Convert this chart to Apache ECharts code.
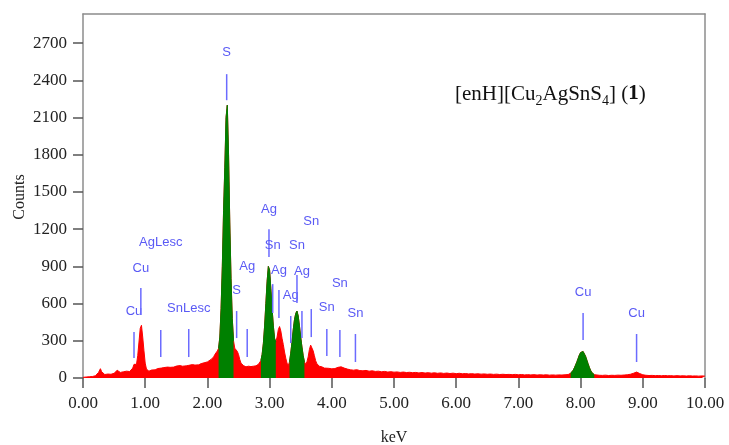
<!DOCTYPE html>
<html>
<head>
<meta charset="utf-8">
<script src="https://cdn.jsdelivr.net/npm/echarts@6/dist/echarts.min.js"></script>
<style>
  html, body { margin: 0; padding: 0; background: #fff; }
  #chart { width: 729px; height: 445px; }
</style>
</head>
<body>
<div id="chart"></div>
<script>
// spectrum, [keV, counts]
var spectrumLow = [
  [0.00, 5], [0.05, 8], [0.10, 10], [0.15, 12], [0.20, 18], [0.25, 45], [0.28, 75], [0.30, 50],
  [0.35, 28], [0.40, 32], [0.45, 30], [0.50, 38], [0.55, 62], [0.60, 45], [0.65, 50], [0.70, 55],
  [0.75, 52], [0.80, 80], [0.82, 110], [0.84, 95], [0.86, 110], [0.88, 180], [0.90, 290], [0.92, 400],
  [0.94, 425], [0.96, 330], [0.98, 220], [1.00, 120], [1.02, 72], [1.04, 58], [1.06, 55], [1.10, 64],
  [1.13, 72], [1.16, 66], [1.20, 76], [1.23, 70], [1.26, 80], [1.30, 84], [1.33, 78], [1.36, 88],
  [1.40, 86], [1.43, 94], [1.46, 88], [1.50, 96], [1.53, 92], [1.56, 100], [1.60, 95], [1.63, 104],
  [1.66, 98], [1.70, 102], [1.73, 96], [1.76, 108], [1.80, 104], [1.83, 112], [1.86, 106], [1.90, 116],
  [1.93, 110], [1.96, 124], [2.00, 130], [2.03, 138], [2.06, 150]
];
var spectrumMid = [
  [2.10, 170], [2.12, 190], [2.14, 205], [2.16, 218], [2.18, 240], [2.20, 330], [2.22, 560], [2.24, 900],
  [2.26, 1350], [2.28, 1700], [2.30, 2100], [2.32, 2200], [2.34, 1800], [2.36, 1250], [2.38, 800], [2.40, 480],
  [2.42, 300], [2.44, 240], [2.46, 235], [2.48, 215], [2.50, 190], [2.52, 150], [2.54, 120], [2.56, 105],
  [2.58, 100], [2.60, 95], [2.62, 90], [2.64, 100], [2.66, 95], [2.68, 90], [2.70, 92], [2.72, 88],
  [2.74, 95], [2.76, 100], [2.78, 98], [2.80, 105], [2.82, 110], [2.84, 120], [2.86, 140], [2.88, 190],
  [2.90, 280], [2.92, 420], [2.94, 600], [2.96, 780], [2.98, 900], [3.00, 870], [3.02, 720], [3.04, 560],
  [3.06, 420], [3.08, 320], [3.10, 290], [3.12, 330], [3.14, 390], [3.16, 415], [3.18, 380], [3.20, 320],
  [3.22, 270], [3.24, 210], [3.26, 160], [3.28, 120], [3.30, 100], [3.32, 130], [3.34, 200], [3.36, 290],
  [3.38, 390], [3.40, 470], [3.42, 520], [3.44, 540], [3.46, 500], [3.48, 420], [3.50, 330], [3.52, 250],
  [3.54, 180], [3.56, 130], [3.58, 110], [3.60, 130], [3.62, 170], [3.64, 230], [3.66, 265], [3.68, 255],
  [3.70, 220], [3.72, 180], [3.74, 140], [3.76, 115], [3.78, 100], [3.80, 95], [3.82, 88], [3.84, 90],
  [3.86, 85], [3.88, 80], [3.90, 82]
];
var spectrumHigh = [
  [3.95, 78], [4.00, 74], [4.05, 76], [4.10, 86], [4.15, 90], [4.20, 80], [4.25, 72], [4.30, 66],
  [4.35, 63], [4.40, 67], [4.45, 60], [4.50, 58], [4.55, 61], [4.60, 55], [4.65, 58], [4.70, 53],
  [4.75, 55], [4.80, 50], [4.85, 53], [4.90, 48], [4.95, 51], [5.00, 47], [5.05, 49], [5.10, 45],
  [5.15, 48], [5.20, 44], [5.25, 46], [5.30, 43], [5.35, 45], [5.40, 41], [5.45, 44], [5.50, 40],
  [5.55, 43], [5.60, 39], [5.65, 42], [5.70, 38], [5.75, 41], [5.80, 37], [5.85, 40], [5.90, 36],
  [5.95, 39], [6.00, 35], [6.05, 38], [6.10, 34], [6.15, 36], [6.20, 33], [6.25, 35], [6.30, 32],
  [6.35, 34], [6.40, 31], [6.45, 33], [6.50, 30], [6.55, 32], [6.60, 29], [6.65, 31], [6.70, 28],
  [6.75, 30], [6.80, 28], [6.85, 29], [6.90, 27], [6.95, 29], [7.00, 26], [7.05, 28], [7.10, 25],
  [7.15, 27], [7.20, 25], [7.25, 27], [7.30, 24], [7.35, 26], [7.40, 24], [7.45, 26], [7.50, 23],
  [7.55, 25], [7.60, 23], [7.65, 25], [7.70, 24], [7.75, 26], [7.80, 28], [7.82, 30], [7.84, 38],
  [7.86, 48], [7.88, 62], [7.90, 82], [7.92, 105], [7.94, 130], [7.96, 158], [7.98, 185], [8.00, 205],
  [8.02, 218], [8.04, 214], [8.06, 198], [8.08, 175], [8.10, 145], [8.12, 115], [8.14, 86], [8.16, 62],
  [8.18, 44], [8.20, 33], [8.22, 27], [8.24, 24], [8.30, 22], [8.35, 21], [8.40, 23], [8.45, 20],
  [8.50, 22], [8.55, 21], [8.60, 23], [8.65, 22], [8.70, 24], [8.75, 26], [8.80, 30], [8.85, 38],
  [8.90, 48], [8.95, 36], [9.00, 26], [9.05, 22], [9.10, 20], [9.15, 21], [9.20, 19], [9.25, 20],
  [9.30, 18], [9.35, 20], [9.40, 18], [9.45, 19], [9.50, 17], [9.55, 19], [9.60, 17], [9.65, 18],
  [9.70, 16], [9.75, 18], [9.80, 16], [9.85, 17], [9.90, 15], [9.95, 17], [10.00, 15]
];
// identified peak windows (keV), drawn green
var greenRanges = [[2.18, 2.43], [2.86, 3.10], [3.31, 3.57], [7.84, 8.22]];

// element markers
var markerName  = ['Cu', 'Cu', 'AgLesc', 'SnLesc', 'S', 'S', 'Ag', 'Ag', 'Sn', 'Ag', 'Ag', 'Sn', 'Ag', 'Sn', 'Sn', 'Sn', 'Sn', 'Cu', 'Cu'];
var markerKeV   = [0.82, 0.93, 1.25, 1.70, 2.31, 2.47, 2.64, 2.99, 3.05, 3.15, 3.34, 3.44, 3.52, 3.67, 3.92, 4.13, 4.38, 8.04, 8.90];
var markerLow   = [161, 508, 169, 169, 2240, 322, 169, 975, 524, 483, 282, 604, 322, 330, 177, 169, 129, 306, 129];
var markerHigh  = [371, 725, 387, 395, 2450, 540, 395, 1200, 757, 709, 500, 830, 540, 556, 395, 387, 355, 524, 355];
var markerLabel = [540, 886, 1096, 564, 2627, 709, 902, 1362, 1072, 870, 669, 1072, 862, 1265, 572, 765, 524, 693, 524];

var yTicks = [0, 300, 600, 900, 1200, 1500, 1800, 2100, 2400, 2700];

var spectrum = spectrumLow.concat(spectrumMid, spectrumHigh);
var greenData = spectrum.map(function (p) {
    var inside = greenRanges.some(function (r) { return p[0] >= r[0] - 1e-9 && p[0] <= r[1] + 1e-9; });
    return inside ? p : [p[0], null];
});
var markers = markerKeV.map(function (k, i) {
    return [k, markerLow[i], markerHigh[i], markerLabel[i], markerName[i]];
});

var serif = '"Liberation Serif", "Times New Roman", serif';
var axisGray = '#8c8c8c';

var myChart = echarts.init(document.getElementById('chart'));
var option = {
    animation: false,
    backgroundColor: '#fff',
    title: {
        text: '{a|[enH][Cu}{s|2}{a|AgSnS}{s|4}{a|] (}{b|1}{a|)}',
        left: 455,
        top: 80,
        padding: 0,
        textStyle: {
            fontWeight: 'normal',
            rich: {
                a: { fontFamily: serif, fontSize: 21, fontWeight: 'normal', color: '#111', lineHeight: 28 },
                b: { fontFamily: serif, fontSize: 21, fontWeight: 'bold', color: '#111', lineHeight: 28 },
                s: { fontFamily: serif, fontSize: 14, fontWeight: 'normal', color: '#111', lineHeight: 16, verticalAlign: 'bottom' }
            }
        }
    },
    graphic: [{
        type: 'text',
        x: 20,
        y: 197,
        rotation: Math.PI / 2,
        style: {
            text: 'Counts',
            fill: '#222',
            font: '16px ' + serif,
            align: 'center',
            verticalAlign: 'middle'
        }
    }],
    grid: { left: 83, right: 24, top: 14, bottom: 67, outerBoundsMode: 'none' },
    xAxis: [{
        type: 'value',
        min: 0,
        max: 10,
        interval: 1,
        name: 'keV',
        nameLocation: 'middle',
        nameGap: 52,
        nameMoveOverlap: false,
        nameTextStyle: { fontFamily: serif, fontSize: 16, color: '#222' },
        axisLine: { show: false },
        axisTick: { show: true, length: 10, lineStyle: { color: '#555', width: 1.5 } },
        axisLabel: {
            margin: 17,
            fontFamily: serif, fontSize: 17, color: '#222',
            formatter: function (v) { return v.toFixed(2); }
        },
        splitLine: { show: false }
    }, {
        type: 'value', position: 'top', min: 0, max: 10,
        axisLine: { show: true, onZero: false, lineStyle: { color: axisGray, width: 1.5 } },
        axisTick: { show: false }, axisLabel: { show: false }, splitLine: { show: false }
    }],
    yAxis: [{
        type: 'value',
        min: 0,
        max: 2935,
        axisLine: { show: true, onZero: false, lineStyle: { color: axisGray, width: 1.5 } },
        axisTick: { show: true, length: 10, customValues: yTicks, lineStyle: { color: '#555', width: 1.5 } },
        axisLabel: {
            margin: 16, customValues: yTicks, fontFamily: serif, fontSize: 17, color: '#222',
            formatter: function (v) { return String(v); }
        },
        splitLine: { show: false }
    }, {
        type: 'value', position: 'right', min: 0, max: 2935,
        axisLine: { show: true, onZero: false, lineStyle: { color: axisGray, width: 1.5 } },
        axisTick: { show: false }, axisLabel: { show: false }, splitLine: { show: false }
    }],
    series: [{
        type: 'line',
        data: spectrum,
        symbol: 'none',
        lineStyle: { color: '#ff0000', width: 1 },
        areaStyle: { color: '#ff0000', opacity: 1 },
        z: 2
    }, {
        type: 'line',
        data: greenData,
        symbol: 'none',
        connectNulls: false,
        lineStyle: { color: '#008000', width: 1 },
        areaStyle: { color: '#008000', opacity: 1 },
        z: 3
    }, {
        type: 'custom',
        data: markers,
        z: 5,
        clip: false,
        renderItem: function (params, api) {
            var k = api.value(0);
            var p1 = api.coord([k, api.value(1)]);
            var p2 = api.coord([k, api.value(2)]);
            var pl = api.coord([k, api.value(3)]);
            return {
                type: 'group',
                children: [{
                    type: 'line',
                    shape: { x1: p1[0], y1: p1[1], x2: p2[0], y2: p2[1] },
                    style: { stroke: '#6b6bff', lineWidth: 1.5 }
                }, {
                    type: 'text',
                    x: pl[0], y: pl[1],
                    style: {
                        text: markers[params.dataIndex][4],
                        fill: '#5a5af5',
                        font: '13px "Liberation Sans", Arial, sans-serif',
                        align: 'center',
                        verticalAlign: 'middle'
                    }
                }]
            };
        }
    }]
};
myChart.setOption(option);
</script>
</body>
</html>
